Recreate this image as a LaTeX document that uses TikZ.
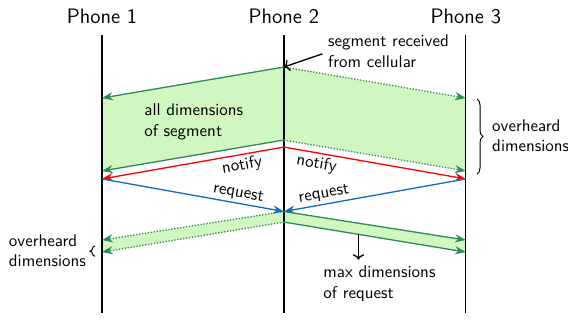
\documentclass[tikz,border=0pt]{standalone}
\usetikzlibrary{calc, arrows.meta, decorations.pathreplacing}
\definecolor{segline}{RGB}{46,139,87}
\definecolor{segfill}{RGB}{208,247,192}
\definecolor{reqblue}{RGB}{20,105,195}

\begin{document}
\begin{tikzpicture}[font=\sffamily\fontsize{10.3}{12.6}\selectfont,
    seg/.style={thick, segline, -{Stealth}},
    notify/.style={thick, red, text=black},
    request/.style={thick, reqblue, text=black},
    msglabel/.style={sloped, inner sep=1.5pt},
    overbrace/.style={semithick, decorate, decoration={brace, amplitude=#1}}]
      \useasboundingbox (-2.176,0.747) rectangle (9.94,-6.08);

      \foreach \i in {1,2,3} {
        \node[font=\sffamily\fontsize{12.7}{15}\selectfont] (Phone\i) at ({(\i-1)*3.88},0.4) {Phone \i};
        \coordinate (Top\i) at ({(\i-1)*3.88},0);
        \coordinate (Bot\i) at ({(\i-1)*3.88},-5.93);
      }
      \foreach \n/\y in {S/-1.344, E/-2.90, N/-3.07, B/-4.373, C/-4.63} {
        \coordinate (\n1) at ($(Top1)+(0,\y)$);
        \coordinate (\n3) at ($(Top3)+(0,\y)$);
      }
      \foreach \n/\y in {S/-0.683, E/-2.24, N/-2.39, B/-3.765, C/-3.99}
        \coordinate (\n2) at ($(Top2)+(0,\y)$);

      \fill[segfill] (S1) -- (S2) -- (S3) -- (E3) -- (E2) -- (E1) -- cycle;
      \fill[segfill] (B1) -- (B2) -- (B3) -- (C3) -- (C2) -- (C1) -- cycle;

      \foreach \i in {1,2,3}
        \draw[thick] (Top\i) -- (Bot\i);

      \draw[seg] (S2) -- (S1);
      \draw[seg, densely dotted] (S2) -- (S3);
      \draw[seg] (E2) -- (E1);
      \draw[seg, densely dotted] (E2) -- (E3);

      \draw[notify, {Stealth}-] (N1) -- node[msglabel, below, pos=0.76] {notify} (N2);
      \draw[notify, -{Stealth}] (N2) -- node[msglabel, below, pos=0.19] {notify} (N3);
      \draw[request, -{Stealth}] (N1) -- node[msglabel, above, pos=0.74] {request} (B2);
      \draw[request, {Stealth}-] (B2) -- node[msglabel, above, pos=0.23] {request} (N3);

      \draw[seg, densely dotted] (B2) -- (B1);
      \draw[seg, densely dotted] (C2) -- (C1);
      \draw[seg] (B2) -- (B3);
      \draw[seg] (C2) -- (C3);

      \node[align=left, anchor=west] (AllDim) at (0.78,-1.85) {all dimensions\\of segment};
      \node[align=left, anchor=west] (Cell) at (4.70,-0.352) {segment received\\from cellular};
      \draw[thick, ->] ([yshift=-0.5mm]Cell.west) -- (S2);

      \draw[overbrace=3.6pt] (8.0,-1.365) -- (8.0,-2.965);
      \node[align=left, anchor=west] (HeardR) at (8.20,-2.15) {overheard\\dimensions};
      \draw[overbrace=3pt] (-0.15,-4.72) -- (-0.15,-4.50);
      \node[align=left, anchor=east] (HeardL) at (-0.22,-4.6) {overheard\\dimensions};

      \node[align=left, anchor=west] (MaxReq) at (4.60,-5.30) {max dimensions\\of request};
      \coordinate (MaxTop) at ($(C2)!0.41!(C3)$);
      \draw[thick, ->] (MaxTop) -- (MaxTop |- MaxReq.north);
\end{tikzpicture}
\end{document}
